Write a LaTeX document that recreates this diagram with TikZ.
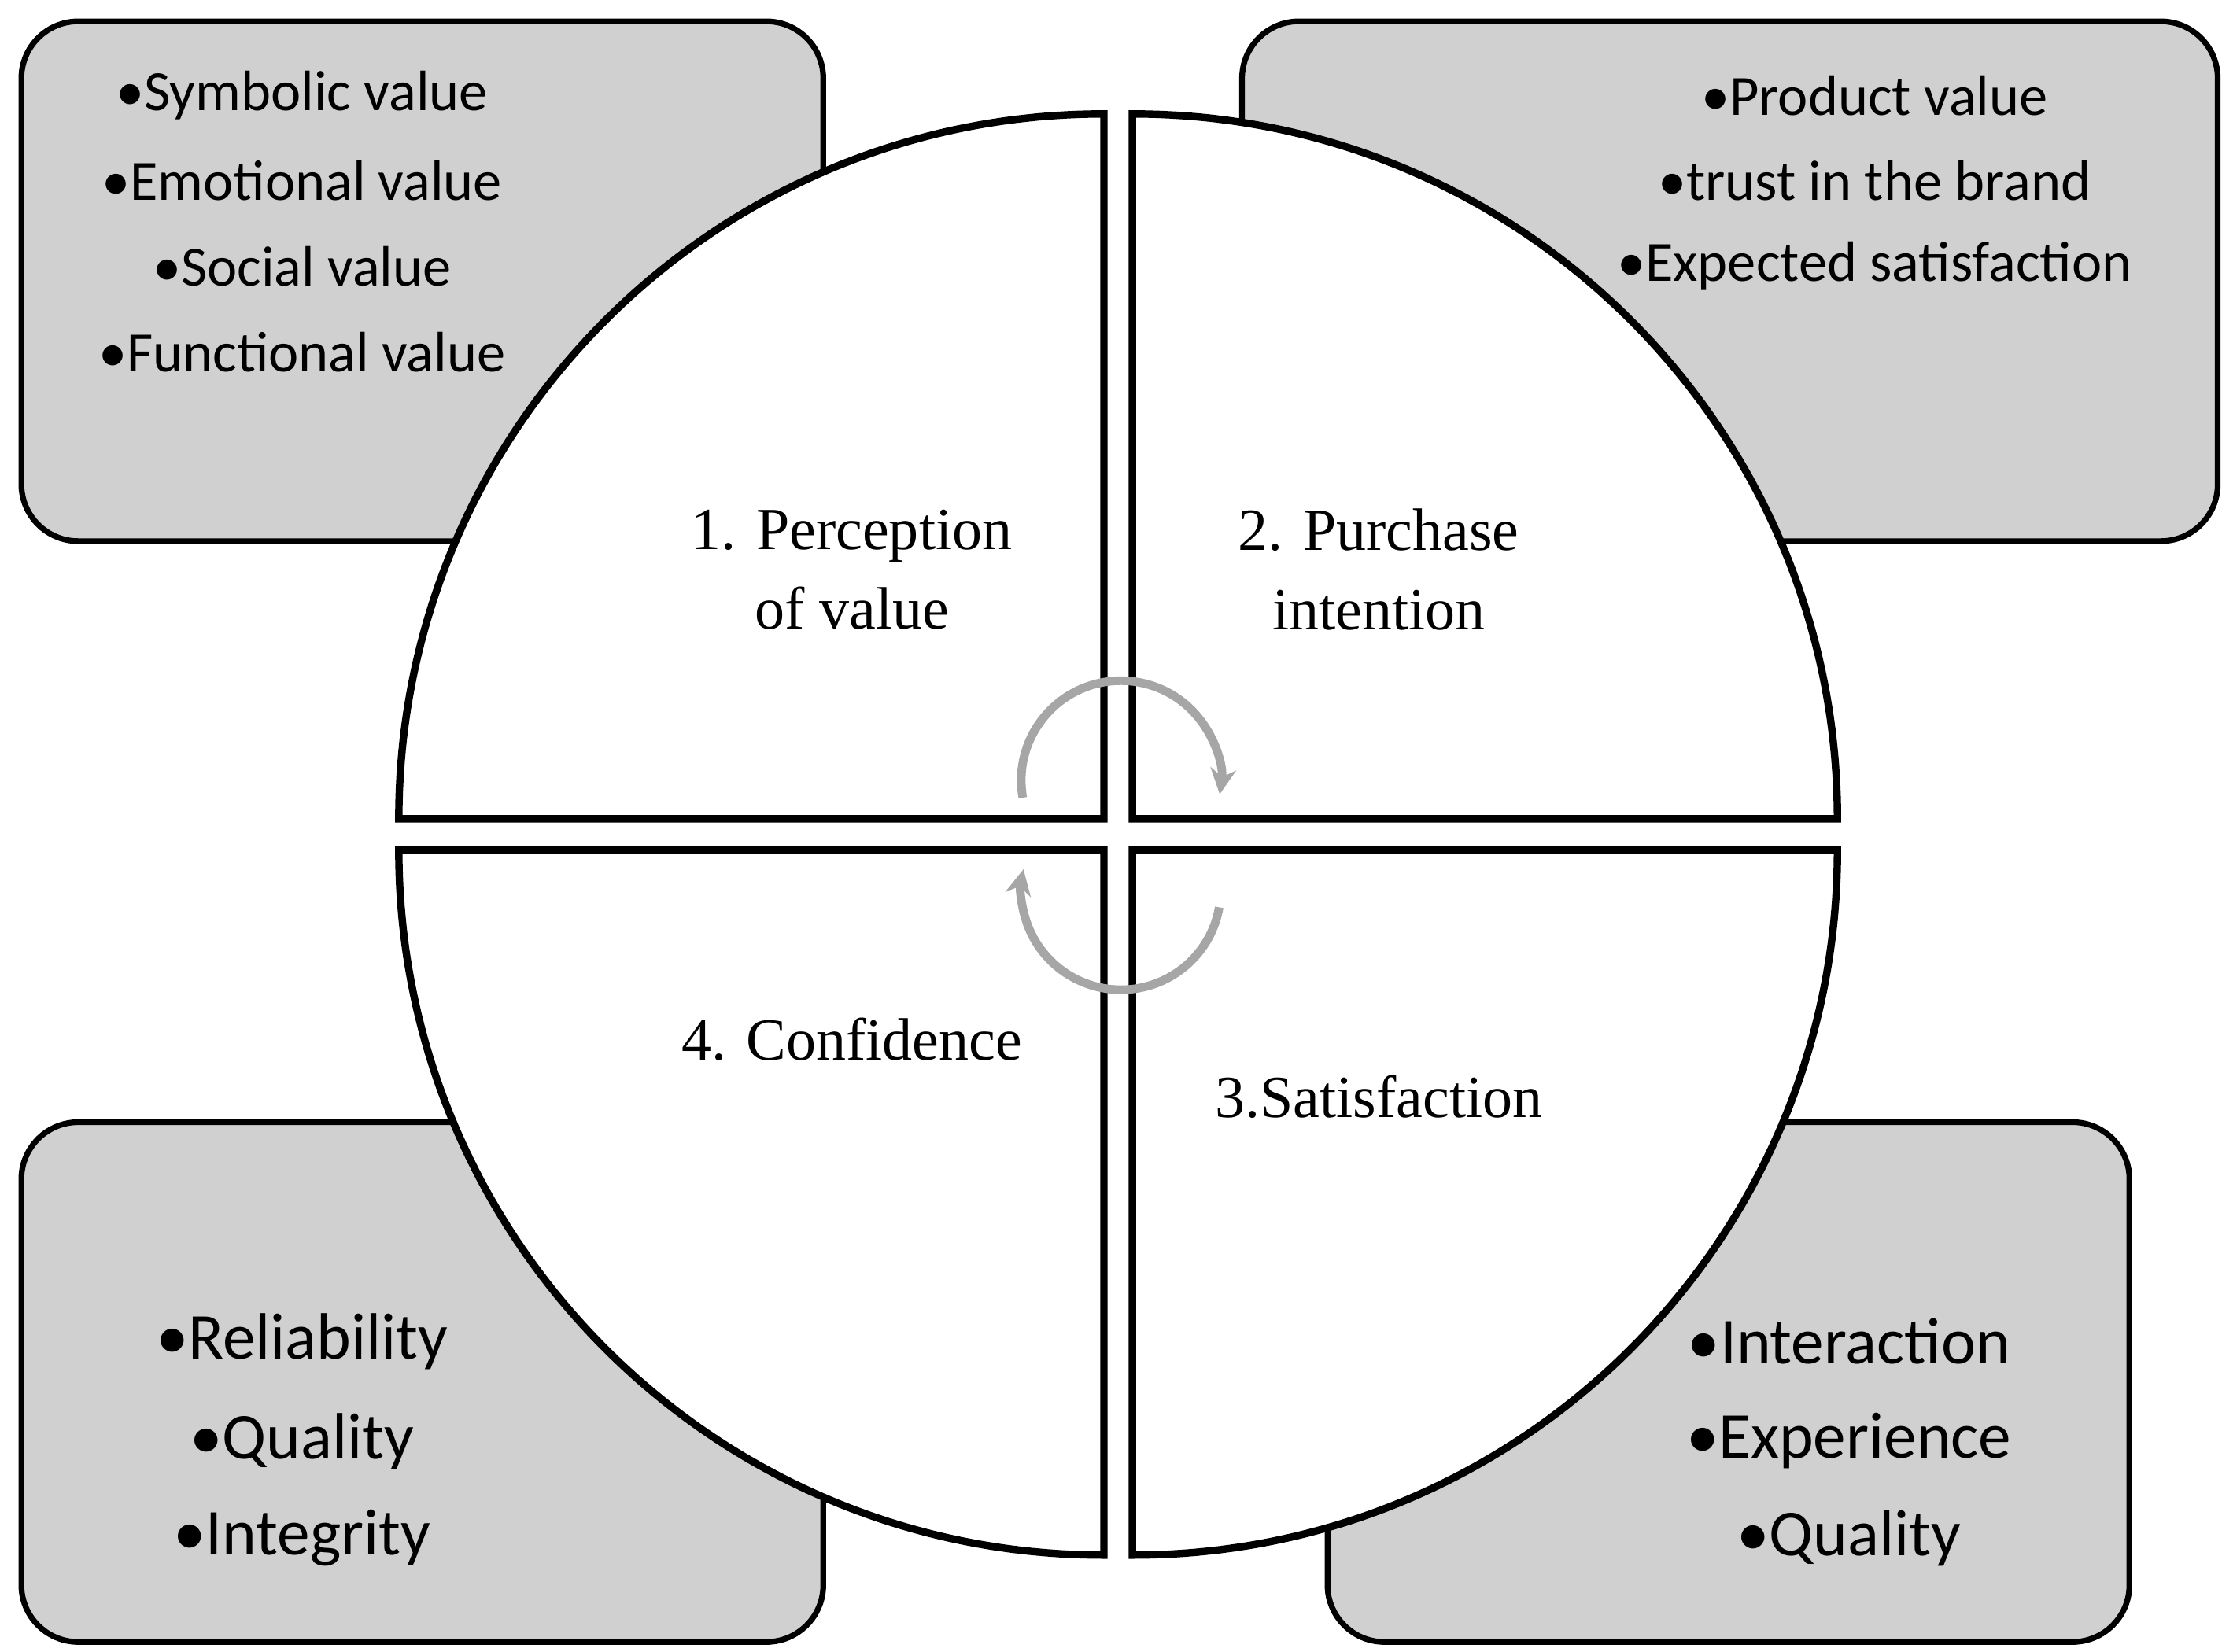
\documentclass[tikz,border=0pt]{standalone}
\usepackage{fontspec}
\setmainfont{Liberation Serif}
\newfontfamily\bulfont{Carlito}
\usetikzlibrary{arrows.meta}
\definecolor{boxgray}{HTML}{D0D0D0}
\definecolor{arrgray}{HTML}{A6A6A6}
\begin{document}
\begin{tikzpicture}[x=0.5pt,y=-0.5pt,
  gbox/.style={draw=black,line width=2pt,fill=boxgray,rounded corners=20pt},
  quad/.style={draw=black,line width=2.6pt,fill=white},
  btxt/.style={font=\bulfont\fontsize{20}{24}\selectfont,inner sep=0pt},
  bbtxt/.style={font=\bulfont\fontsize{23}{27}\selectfont,inner sep=0pt},
  qtxt/.style={font=\fontsize{21}{28}\selectfont,align=center,inner sep=0pt},
  cyc/.style={draw=arrgray,line width=3pt,-{Stealth[length=9pt,width=9pt]}}]
\useasboundingbox (0,0) rectangle (1560,1160);
\draw[gbox] (15,15) rectangle (578,380);
\draw[gbox] (872,15) rectangle (1557,380);
\draw[gbox] (15,788) rectangle (578,1153);
\draw[gbox] (932,788) rectangle (1495,1153);
\node[btxt] (a1) at (212,67) {•Symbolic value};
\node[btxt] (a2) at (212,127) {•Emotional value};
\node[btxt] (a3) at (212,187) {•Social value};
\node[btxt] (a4) at (212,247) {•Functional value};
\node[btxt] (b1) at (1316,67) {•Product value};
\node[btxt] (b2) at (1316,127) {•trust in the brand};
\node[btxt] (b3) at (1316,187) {•Expected satisfaction};
\draw[quad] (775,575) -- (280,575) arc[start angle=180,end angle=270,radius=495] -- cycle;
\draw[quad] (795,575) -- (795,80) arc[start angle=270,end angle=360,radius=495] -- cycle;
\draw[quad] (795,597) -- (1290,597) arc[start angle=0,end angle=90,radius=495] -- cycle;
\draw[quad] (775,597) -- (775,1092) arc[start angle=90,end angle=180,radius=495] -- cycle;
\node[bbtxt] (c1) at (212,942) {•Reliability};
\node[bbtxt] (c2) at (212,1012) {•Quality};
\node[bbtxt] (c3) at (212,1080) {•Integrity};
\node[bbtxt] (d1) at (1298,942) {•Interaction};
\node[bbtxt] (d2) at (1298,1012) {•Experience};
\node[bbtxt] (d3) at (1298,1080) {•Quality};
\node[qtxt] (q1) at (598,400) {1. Perception\\of value};
\node[qtxt] (q2) at (968,400) {2. Purchase\\intention};
\node[qtxt] (q4) at (598,730) {4. Confidence};
\node[qtxt] (q3) at (968,770) {3.Satisfaction};
\draw[cyc] (787,548) ++(170:70) arc[start angle=170,end angle=368,radius=70];
\draw[cyc] (787,625) ++(10:70) arc[start angle=10,end angle=192,radius=70];
\end{tikzpicture}
\end{document}
